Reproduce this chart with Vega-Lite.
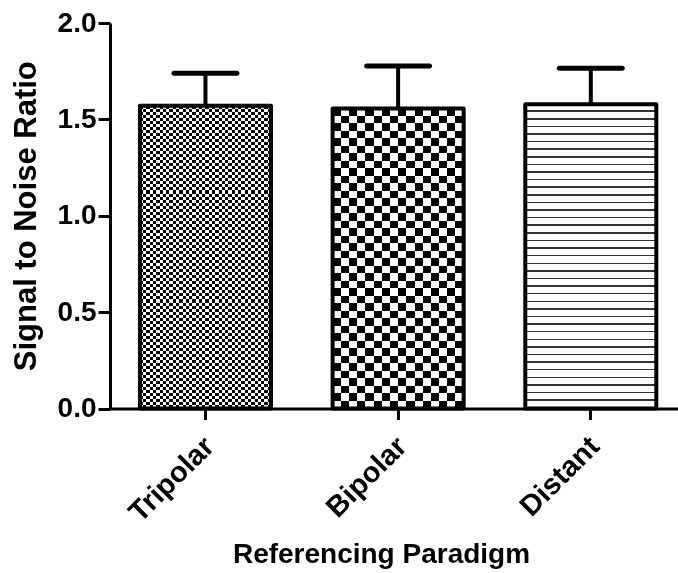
{
  "$schema": "https://vega.github.io/schema/vega-lite/v6.json",
  "width": 568,
  "height": 385.5,
  "autosize": {"type": "none"},
  "padding": {"left": 110, "top": 23, "right": 0, "bottom": 164.5},
  "background": "white",
  "config": {
    "view": {"stroke": null},
    "font": "Liberation Sans",
    "axis": {
      "domainColor": "black", "domainWidth": 3, "tickColor": "black", "tickWidth": 3,
      "labelColor": "black", "labelFont": "Liberation Sans", "labelFontWeight": "bold",
      "titleColor": "black", "titleFont": "Liberation Sans", "titleFontWeight": "bold", "grid": false
    }
  },
  "data": {"values": [
    {"Paradigm": "Tripolar", "SNR": 1.571, "Upper": 1.739},
    {"Paradigm": "Bipolar", "SNR": 1.557, "Upper": 1.777},
    {"Paradigm": "Distant", "SNR": 1.578, "Upper": 1.765}
  ]},
  "encoding": {
    "x": {
      "field": "Paradigm", "type": "nominal", "sort": ["Tripolar", "Bipolar", "Distant"],
      "scale": {"paddingInner": 0.32, "paddingOuter": 0.134, "align": 0.58},
      "axis": {"title": "Referencing Paradigm", "labelAngle": -45, "labelAlign": "right", "labelBaseline": "top",
        "labelFontSize": 29, "labelPadding": 12, "labelOffset": -6, "tickSize": 11, "titleFontSize": 28,
        "titleX": 271, "titleY": 154, "titleBaseline": "alphabetic"}
    },
    "y": {
      "field": "SNR", "type": "quantitative",
      "scale": {"domain": [0, 2], "nice": false},
      "axis": {"title": "Signal to Noise Ratio", "values": [0, 0.5, 1, 1.5, 2], "format": ".1f",
        "labelFontSize": 28, "labelPadding": 2, "tickSize": 12, "titleFontSize": 31,
        "titleX": -84, "titleBaseline": "middle"}
    }
  },
  "layer": [
    {"mark": {"type": "rule", "color": "black", "strokeWidth": 4}, "encoding": {"y2": {"field": "Upper"}}},
    {"mark": {"type": "tick", "color": "black", "size": 68, "thickness": 5, "cornerRadius": 2.5, "opacity": 1},
      "encoding": {"y": {"field": "Upper", "type": "quantitative",
        "axis": {"title": "Signal to Noise Ratio", "values": [0, 0.5, 1, 1.5, 2], "format": ".1f",
          "labelFontSize": 28, "labelPadding": 2, "tickSize": 12, "titleFontSize": 31,
          "titleX": -84, "titleBaseline": "middle"}}}},
    {"transform": [{"filter": "datum.Paradigm === 'Tripolar'"}],
      "mark": {"type": "bar", "stroke": null, "fill": {"gradient": "linear", "x1": 0, "y1": 0, "x2": 0, "y2": 1, "stops": [
        {"offset":0,"color":"#fff"},{"offset":0.01,"color":"#fff"},{"offset":0.01,"color":"#000"},{"offset":0.02,"color":"#000"},
        {"offset":0.02,"color":"#fff"},{"offset":0.03,"color":"#fff"},{"offset":0.03,"color":"#000"},{"offset":0.04,"color":"#000"},
        {"offset":0.04,"color":"#fff"},{"offset":0.05,"color":"#fff"},{"offset":0.05,"color":"#000"},{"offset":0.06,"color":"#000"},
        {"offset":0.06,"color":"#fff"},{"offset":0.07,"color":"#fff"},{"offset":0.07,"color":"#000"},{"offset":0.08,"color":"#000"},
        {"offset":0.08,"color":"#fff"},{"offset":0.09,"color":"#fff"},{"offset":0.09,"color":"#000"},{"offset":0.1,"color":"#000"},
        {"offset":0.1,"color":"#fff"},{"offset":0.11,"color":"#fff"},{"offset":0.11,"color":"#000"},{"offset":0.12,"color":"#000"},
        {"offset":0.12,"color":"#fff"},{"offset":0.13,"color":"#fff"},{"offset":0.13,"color":"#000"},{"offset":0.14,"color":"#000"},
        {"offset":0.14,"color":"#fff"},{"offset":0.15,"color":"#fff"},{"offset":0.15,"color":"#000"},{"offset":0.16,"color":"#000"},
        {"offset":0.16,"color":"#fff"},{"offset":0.17,"color":"#fff"},{"offset":0.17,"color":"#000"},{"offset":0.18,"color":"#000"},
        {"offset":0.18,"color":"#fff"},{"offset":0.19,"color":"#fff"},{"offset":0.19,"color":"#000"},{"offset":0.2,"color":"#000"},
        {"offset":0.2,"color":"#fff"},{"offset":0.21,"color":"#fff"},{"offset":0.21,"color":"#000"},{"offset":0.22,"color":"#000"},
        {"offset":0.22,"color":"#fff"},{"offset":0.23,"color":"#fff"},{"offset":0.23,"color":"#000"},{"offset":0.24,"color":"#000"},
        {"offset":0.24,"color":"#fff"},{"offset":0.25,"color":"#fff"},{"offset":0.25,"color":"#000"},{"offset":0.26,"color":"#000"},
        {"offset":0.26,"color":"#fff"},{"offset":0.27,"color":"#fff"},{"offset":0.27,"color":"#000"},{"offset":0.28,"color":"#000"},
        {"offset":0.28,"color":"#fff"},{"offset":0.29,"color":"#fff"},{"offset":0.29,"color":"#000"},{"offset":0.3,"color":"#000"},
        {"offset":0.3,"color":"#fff"},{"offset":0.31,"color":"#fff"},{"offset":0.31,"color":"#000"},{"offset":0.32,"color":"#000"},
        {"offset":0.32,"color":"#fff"},{"offset":0.33,"color":"#fff"},{"offset":0.33,"color":"#000"},{"offset":0.34,"color":"#000"},
        {"offset":0.34,"color":"#fff"},{"offset":0.35,"color":"#fff"},{"offset":0.35,"color":"#000"},{"offset":0.36,"color":"#000"},
        {"offset":0.36,"color":"#fff"},{"offset":0.37,"color":"#fff"},{"offset":0.37,"color":"#000"},{"offset":0.38,"color":"#000"},
        {"offset":0.38,"color":"#fff"},{"offset":0.39,"color":"#fff"},{"offset":0.39,"color":"#000"},{"offset":0.4,"color":"#000"},
        {"offset":0.4,"color":"#fff"},{"offset":0.41,"color":"#fff"},{"offset":0.41,"color":"#000"},{"offset":0.42,"color":"#000"},
        {"offset":0.42,"color":"#fff"},{"offset":0.43,"color":"#fff"},{"offset":0.43,"color":"#000"},{"offset":0.44,"color":"#000"},
        {"offset":0.44,"color":"#fff"},{"offset":0.45,"color":"#fff"},{"offset":0.45,"color":"#000"},{"offset":0.46,"color":"#000"},
        {"offset":0.46,"color":"#fff"},{"offset":0.47,"color":"#fff"},{"offset":0.47,"color":"#000"},{"offset":0.48,"color":"#000"},
        {"offset":0.48,"color":"#fff"},{"offset":0.49,"color":"#fff"},{"offset":0.49,"color":"#000"},{"offset":0.5,"color":"#000"},
        {"offset":0.5,"color":"#fff"},{"offset":0.51,"color":"#fff"},{"offset":0.51,"color":"#000"},{"offset":0.52,"color":"#000"},
        {"offset":0.52,"color":"#fff"},{"offset":0.53,"color":"#fff"},{"offset":0.53,"color":"#000"},{"offset":0.54,"color":"#000"},
        {"offset":0.54,"color":"#fff"},{"offset":0.55,"color":"#fff"},{"offset":0.55,"color":"#000"},{"offset":0.56,"color":"#000"},
        {"offset":0.56,"color":"#fff"},{"offset":0.57,"color":"#fff"},{"offset":0.57,"color":"#000"},{"offset":0.58,"color":"#000"},
        {"offset":0.58,"color":"#fff"},{"offset":0.59,"color":"#fff"},{"offset":0.59,"color":"#000"},{"offset":0.6,"color":"#000"},
        {"offset":0.6,"color":"#fff"},{"offset":0.61,"color":"#fff"},{"offset":0.61,"color":"#000"},{"offset":0.62,"color":"#000"},
        {"offset":0.62,"color":"#fff"},{"offset":0.63,"color":"#fff"},{"offset":0.63,"color":"#000"},{"offset":0.64,"color":"#000"},
        {"offset":0.64,"color":"#fff"},{"offset":0.65,"color":"#fff"},{"offset":0.65,"color":"#000"},{"offset":0.66,"color":"#000"},
        {"offset":0.66,"color":"#fff"},{"offset":0.67,"color":"#fff"},{"offset":0.67,"color":"#000"},{"offset":0.68,"color":"#000"},
        {"offset":0.68,"color":"#fff"},{"offset":0.69,"color":"#fff"},{"offset":0.69,"color":"#000"},{"offset":0.7,"color":"#000"},
        {"offset":0.7,"color":"#fff"},{"offset":0.71,"color":"#fff"},{"offset":0.71,"color":"#000"},{"offset":0.72,"color":"#000"},
        {"offset":0.72,"color":"#fff"},{"offset":0.73,"color":"#fff"},{"offset":0.73,"color":"#000"},{"offset":0.74,"color":"#000"},
        {"offset":0.74,"color":"#fff"},{"offset":0.75,"color":"#fff"},{"offset":0.75,"color":"#000"},{"offset":0.76,"color":"#000"},
        {"offset":0.76,"color":"#fff"},{"offset":0.77,"color":"#fff"},{"offset":0.77,"color":"#000"},{"offset":0.78,"color":"#000"},
        {"offset":0.78,"color":"#fff"},{"offset":0.79,"color":"#fff"},{"offset":0.79,"color":"#000"},{"offset":0.8,"color":"#000"},
        {"offset":0.8,"color":"#fff"},{"offset":0.81,"color":"#fff"},{"offset":0.81,"color":"#000"},{"offset":0.82,"color":"#000"},
        {"offset":0.82,"color":"#fff"},{"offset":0.83,"color":"#fff"},{"offset":0.83,"color":"#000"},{"offset":0.84,"color":"#000"},
        {"offset":0.84,"color":"#fff"},{"offset":0.85,"color":"#fff"},{"offset":0.85,"color":"#000"},{"offset":0.86,"color":"#000"},
        {"offset":0.86,"color":"#fff"},{"offset":0.87,"color":"#fff"},{"offset":0.87,"color":"#000"},{"offset":0.88,"color":"#000"},
        {"offset":0.88,"color":"#fff"},{"offset":0.89,"color":"#fff"},{"offset":0.89,"color":"#000"},{"offset":0.9,"color":"#000"},
        {"offset":0.9,"color":"#fff"},{"offset":0.91,"color":"#fff"},{"offset":0.91,"color":"#000"},{"offset":0.92,"color":"#000"},
        {"offset":0.92,"color":"#fff"},{"offset":0.93,"color":"#fff"},{"offset":0.93,"color":"#000"},{"offset":0.94,"color":"#000"},
        {"offset":0.94,"color":"#fff"},{"offset":0.95,"color":"#fff"},{"offset":0.95,"color":"#000"},{"offset":0.96,"color":"#000"},
        {"offset":0.96,"color":"#fff"},{"offset":0.97,"color":"#fff"},{"offset":0.97,"color":"#000"},{"offset":0.98,"color":"#000"},
        {"offset":0.98,"color":"#fff"},{"offset":0.99,"color":"#fff"},{"offset":0.99,"color":"#000"},{"offset":1,"color":"#000"}
      ]}}},
    {"transform": [{"filter": "datum.Paradigm === 'Tripolar'"}],
      "mark": {"type": "bar", "stroke": null, "blend": "difference", "fill": {"gradient": "linear", "x1": 0, "y1": 0, "x2": 1, "y2": 0, "stops": [
        {"offset":0,"color":"#fff"},{"offset":0.025,"color":"#fff"},{"offset":0.025,"color":"#000"},{"offset":0.05,"color":"#000"},
        {"offset":0.05,"color":"#fff"},{"offset":0.075,"color":"#fff"},{"offset":0.075,"color":"#000"},{"offset":0.1,"color":"#000"},
        {"offset":0.1,"color":"#fff"},{"offset":0.125,"color":"#fff"},{"offset":0.125,"color":"#000"},{"offset":0.15,"color":"#000"},
        {"offset":0.15,"color":"#fff"},{"offset":0.175,"color":"#fff"},{"offset":0.175,"color":"#000"},{"offset":0.2,"color":"#000"},
        {"offset":0.2,"color":"#fff"},{"offset":0.225,"color":"#fff"},{"offset":0.225,"color":"#000"},{"offset":0.25,"color":"#000"},
        {"offset":0.25,"color":"#fff"},{"offset":0.275,"color":"#fff"},{"offset":0.275,"color":"#000"},{"offset":0.3,"color":"#000"},
        {"offset":0.3,"color":"#fff"},{"offset":0.325,"color":"#fff"},{"offset":0.325,"color":"#000"},{"offset":0.35,"color":"#000"},
        {"offset":0.35,"color":"#fff"},{"offset":0.375,"color":"#fff"},{"offset":0.375,"color":"#000"},{"offset":0.4,"color":"#000"},
        {"offset":0.4,"color":"#fff"},{"offset":0.425,"color":"#fff"},{"offset":0.425,"color":"#000"},{"offset":0.45,"color":"#000"},
        {"offset":0.45,"color":"#fff"},{"offset":0.475,"color":"#fff"},{"offset":0.475,"color":"#000"},{"offset":0.5,"color":"#000"},
        {"offset":0.5,"color":"#fff"},{"offset":0.525,"color":"#fff"},{"offset":0.525,"color":"#000"},{"offset":0.55,"color":"#000"},
        {"offset":0.55,"color":"#fff"},{"offset":0.575,"color":"#fff"},{"offset":0.575,"color":"#000"},{"offset":0.6,"color":"#000"},
        {"offset":0.6,"color":"#fff"},{"offset":0.625,"color":"#fff"},{"offset":0.625,"color":"#000"},{"offset":0.65,"color":"#000"},
        {"offset":0.65,"color":"#fff"},{"offset":0.675,"color":"#fff"},{"offset":0.675,"color":"#000"},{"offset":0.7,"color":"#000"},
        {"offset":0.7,"color":"#fff"},{"offset":0.725,"color":"#fff"},{"offset":0.725,"color":"#000"},{"offset":0.75,"color":"#000"},
        {"offset":0.75,"color":"#fff"},{"offset":0.775,"color":"#fff"},{"offset":0.775,"color":"#000"},{"offset":0.8,"color":"#000"},
        {"offset":0.8,"color":"#fff"},{"offset":0.825,"color":"#fff"},{"offset":0.825,"color":"#000"},{"offset":0.85,"color":"#000"},
        {"offset":0.85,"color":"#fff"},{"offset":0.875,"color":"#fff"},{"offset":0.875,"color":"#000"},{"offset":0.9,"color":"#000"},
        {"offset":0.9,"color":"#fff"},{"offset":0.925,"color":"#fff"},{"offset":0.925,"color":"#000"},{"offset":0.95,"color":"#000"},
        {"offset":0.95,"color":"#fff"},{"offset":0.975,"color":"#fff"},{"offset":0.975,"color":"#000"},{"offset":1,"color":"#000"}
      ]}}},
    {"transform": [{"filter": "datum.Paradigm === 'Bipolar'"}],
      "mark": {"type": "bar", "stroke": null, "fill": {"gradient": "linear", "x1": 0, "y1": 0, "x2": 0, "y2": 1, "stops": [
        {"offset":0,"color":"#fff"},{"offset":0.025,"color":"#fff"},{"offset":0.025,"color":"#000"},{"offset":0.05,"color":"#000"},
        {"offset":0.05,"color":"#fff"},{"offset":0.075,"color":"#fff"},{"offset":0.075,"color":"#000"},{"offset":0.1,"color":"#000"},
        {"offset":0.1,"color":"#fff"},{"offset":0.125,"color":"#fff"},{"offset":0.125,"color":"#000"},{"offset":0.15,"color":"#000"},
        {"offset":0.15,"color":"#fff"},{"offset":0.175,"color":"#fff"},{"offset":0.175,"color":"#000"},{"offset":0.2,"color":"#000"},
        {"offset":0.2,"color":"#fff"},{"offset":0.225,"color":"#fff"},{"offset":0.225,"color":"#000"},{"offset":0.25,"color":"#000"},
        {"offset":0.25,"color":"#fff"},{"offset":0.275,"color":"#fff"},{"offset":0.275,"color":"#000"},{"offset":0.3,"color":"#000"},
        {"offset":0.3,"color":"#fff"},{"offset":0.325,"color":"#fff"},{"offset":0.325,"color":"#000"},{"offset":0.35,"color":"#000"},
        {"offset":0.35,"color":"#fff"},{"offset":0.375,"color":"#fff"},{"offset":0.375,"color":"#000"},{"offset":0.4,"color":"#000"},
        {"offset":0.4,"color":"#fff"},{"offset":0.425,"color":"#fff"},{"offset":0.425,"color":"#000"},{"offset":0.45,"color":"#000"},
        {"offset":0.45,"color":"#fff"},{"offset":0.475,"color":"#fff"},{"offset":0.475,"color":"#000"},{"offset":0.5,"color":"#000"},
        {"offset":0.5,"color":"#fff"},{"offset":0.525,"color":"#fff"},{"offset":0.525,"color":"#000"},{"offset":0.55,"color":"#000"},
        {"offset":0.55,"color":"#fff"},{"offset":0.575,"color":"#fff"},{"offset":0.575,"color":"#000"},{"offset":0.6,"color":"#000"},
        {"offset":0.6,"color":"#fff"},{"offset":0.625,"color":"#fff"},{"offset":0.625,"color":"#000"},{"offset":0.65,"color":"#000"},
        {"offset":0.65,"color":"#fff"},{"offset":0.675,"color":"#fff"},{"offset":0.675,"color":"#000"},{"offset":0.7,"color":"#000"},
        {"offset":0.7,"color":"#fff"},{"offset":0.725,"color":"#fff"},{"offset":0.725,"color":"#000"},{"offset":0.75,"color":"#000"},
        {"offset":0.75,"color":"#fff"},{"offset":0.775,"color":"#fff"},{"offset":0.775,"color":"#000"},{"offset":0.8,"color":"#000"},
        {"offset":0.8,"color":"#fff"},{"offset":0.825,"color":"#fff"},{"offset":0.825,"color":"#000"},{"offset":0.85,"color":"#000"},
        {"offset":0.85,"color":"#fff"},{"offset":0.875,"color":"#fff"},{"offset":0.875,"color":"#000"},{"offset":0.9,"color":"#000"},
        {"offset":0.9,"color":"#fff"},{"offset":0.925,"color":"#fff"},{"offset":0.925,"color":"#000"},{"offset":0.95,"color":"#000"},
        {"offset":0.95,"color":"#fff"},{"offset":0.975,"color":"#fff"},{"offset":0.975,"color":"#000"},{"offset":1,"color":"#000"}
      ]}}},
    {"transform": [{"filter": "datum.Paradigm === 'Bipolar'"}],
      "mark": {"type": "bar", "stroke": null, "blend": "difference", "fill": {"gradient": "linear", "x1": 0, "y1": 0, "x2": 1, "y2": 0, "stops": [
        {"offset":0,"color":"#fff"},{"offset":0.0625,"color":"#fff"},{"offset":0.0625,"color":"#000"},{"offset":0.125,"color":"#000"},
        {"offset":0.125,"color":"#fff"},{"offset":0.1875,"color":"#fff"},{"offset":0.1875,"color":"#000"},{"offset":0.25,"color":"#000"},
        {"offset":0.25,"color":"#fff"},{"offset":0.3125,"color":"#fff"},{"offset":0.3125,"color":"#000"},{"offset":0.375,"color":"#000"},
        {"offset":0.375,"color":"#fff"},{"offset":0.4375,"color":"#fff"},{"offset":0.4375,"color":"#000"},{"offset":0.5,"color":"#000"},
        {"offset":0.5,"color":"#fff"},{"offset":0.5625,"color":"#fff"},{"offset":0.5625,"color":"#000"},{"offset":0.625,"color":"#000"},
        {"offset":0.625,"color":"#fff"},{"offset":0.6875,"color":"#fff"},{"offset":0.6875,"color":"#000"},{"offset":0.75,"color":"#000"},
        {"offset":0.75,"color":"#fff"},{"offset":0.8125,"color":"#fff"},{"offset":0.8125,"color":"#000"},{"offset":0.875,"color":"#000"},
        {"offset":0.875,"color":"#fff"},{"offset":0.9375,"color":"#fff"},{"offset":0.9375,"color":"#000"},{"offset":1,"color":"#000"}
      ]}}},
    {"transform": [{"filter": "datum.Paradigm === 'Distant'"}],
      "mark": {"type": "bar", "stroke": null, "fill": {"gradient": "linear", "x1": 0, "y1": 0, "x2": 0, "y2": 1, "stops": [
        {"offset":0,"color":"#fff"},{"offset":0.02,"color":"#fff"},{"offset":0.02,"color":"#333"},{"offset":0.025,"color":"#333"},
        {"offset":0.025,"color":"#fff"},{"offset":0.045,"color":"#fff"},{"offset":0.045,"color":"#333"},{"offset":0.05,"color":"#333"},
        {"offset":0.05,"color":"#fff"},{"offset":0.07,"color":"#fff"},{"offset":0.07,"color":"#333"},{"offset":0.075,"color":"#333"},
        {"offset":0.075,"color":"#fff"},{"offset":0.095,"color":"#fff"},{"offset":0.095,"color":"#333"},{"offset":0.1,"color":"#333"},
        {"offset":0.1,"color":"#fff"},{"offset":0.12,"color":"#fff"},{"offset":0.12,"color":"#333"},{"offset":0.125,"color":"#333"},
        {"offset":0.125,"color":"#fff"},{"offset":0.145,"color":"#fff"},{"offset":0.145,"color":"#333"},{"offset":0.15,"color":"#333"},
        {"offset":0.15,"color":"#fff"},{"offset":0.17,"color":"#fff"},{"offset":0.17,"color":"#333"},{"offset":0.175,"color":"#333"},
        {"offset":0.175,"color":"#fff"},{"offset":0.195,"color":"#fff"},{"offset":0.195,"color":"#333"},{"offset":0.2,"color":"#333"},
        {"offset":0.2,"color":"#fff"},{"offset":0.22,"color":"#fff"},{"offset":0.22,"color":"#333"},{"offset":0.225,"color":"#333"},
        {"offset":0.225,"color":"#fff"},{"offset":0.245,"color":"#fff"},{"offset":0.245,"color":"#333"},{"offset":0.25,"color":"#333"},
        {"offset":0.25,"color":"#fff"},{"offset":0.27,"color":"#fff"},{"offset":0.27,"color":"#333"},{"offset":0.275,"color":"#333"},
        {"offset":0.275,"color":"#fff"},{"offset":0.295,"color":"#fff"},{"offset":0.295,"color":"#333"},{"offset":0.3,"color":"#333"},
        {"offset":0.3,"color":"#fff"},{"offset":0.32,"color":"#fff"},{"offset":0.32,"color":"#333"},{"offset":0.325,"color":"#333"},
        {"offset":0.325,"color":"#fff"},{"offset":0.345,"color":"#fff"},{"offset":0.345,"color":"#333"},{"offset":0.35,"color":"#333"},
        {"offset":0.35,"color":"#fff"},{"offset":0.37,"color":"#fff"},{"offset":0.37,"color":"#333"},{"offset":0.375,"color":"#333"},
        {"offset":0.375,"color":"#fff"},{"offset":0.395,"color":"#fff"},{"offset":0.395,"color":"#333"},{"offset":0.4,"color":"#333"},
        {"offset":0.4,"color":"#fff"},{"offset":0.42,"color":"#fff"},{"offset":0.42,"color":"#333"},{"offset":0.425,"color":"#333"},
        {"offset":0.425,"color":"#fff"},{"offset":0.445,"color":"#fff"},{"offset":0.445,"color":"#333"},{"offset":0.45,"color":"#333"},
        {"offset":0.45,"color":"#fff"},{"offset":0.47,"color":"#fff"},{"offset":0.47,"color":"#333"},{"offset":0.475,"color":"#333"},
        {"offset":0.475,"color":"#fff"},{"offset":0.495,"color":"#fff"},{"offset":0.495,"color":"#333"},{"offset":0.5,"color":"#333"},
        {"offset":0.5,"color":"#fff"},{"offset":0.52,"color":"#fff"},{"offset":0.52,"color":"#333"},{"offset":0.525,"color":"#333"},
        {"offset":0.525,"color":"#fff"},{"offset":0.545,"color":"#fff"},{"offset":0.545,"color":"#333"},{"offset":0.55,"color":"#333"},
        {"offset":0.55,"color":"#fff"},{"offset":0.57,"color":"#fff"},{"offset":0.57,"color":"#333"},{"offset":0.575,"color":"#333"},
        {"offset":0.575,"color":"#fff"},{"offset":0.595,"color":"#fff"},{"offset":0.595,"color":"#333"},{"offset":0.6,"color":"#333"},
        {"offset":0.6,"color":"#fff"},{"offset":0.62,"color":"#fff"},{"offset":0.62,"color":"#333"},{"offset":0.625,"color":"#333"},
        {"offset":0.625,"color":"#fff"},{"offset":0.645,"color":"#fff"},{"offset":0.645,"color":"#333"},{"offset":0.65,"color":"#333"},
        {"offset":0.65,"color":"#fff"},{"offset":0.67,"color":"#fff"},{"offset":0.67,"color":"#333"},{"offset":0.675,"color":"#333"},
        {"offset":0.675,"color":"#fff"},{"offset":0.695,"color":"#fff"},{"offset":0.695,"color":"#333"},{"offset":0.7,"color":"#333"},
        {"offset":0.7,"color":"#fff"},{"offset":0.72,"color":"#fff"},{"offset":0.72,"color":"#333"},{"offset":0.725,"color":"#333"},
        {"offset":0.725,"color":"#fff"},{"offset":0.745,"color":"#fff"},{"offset":0.745,"color":"#333"},{"offset":0.75,"color":"#333"},
        {"offset":0.75,"color":"#fff"},{"offset":0.77,"color":"#fff"},{"offset":0.77,"color":"#333"},{"offset":0.775,"color":"#333"},
        {"offset":0.775,"color":"#fff"},{"offset":0.795,"color":"#fff"},{"offset":0.795,"color":"#333"},{"offset":0.8,"color":"#333"},
        {"offset":0.8,"color":"#fff"},{"offset":0.82,"color":"#fff"},{"offset":0.82,"color":"#333"},{"offset":0.825,"color":"#333"},
        {"offset":0.825,"color":"#fff"},{"offset":0.845,"color":"#fff"},{"offset":0.845,"color":"#333"},{"offset":0.85,"color":"#333"},
        {"offset":0.85,"color":"#fff"},{"offset":0.87,"color":"#fff"},{"offset":0.87,"color":"#333"},{"offset":0.875,"color":"#333"},
        {"offset":0.875,"color":"#fff"},{"offset":0.895,"color":"#fff"},{"offset":0.895,"color":"#333"},{"offset":0.9,"color":"#333"},
        {"offset":0.9,"color":"#fff"},{"offset":0.92,"color":"#fff"},{"offset":0.92,"color":"#333"},{"offset":0.925,"color":"#333"},
        {"offset":0.925,"color":"#fff"},{"offset":0.945,"color":"#fff"},{"offset":0.945,"color":"#333"},{"offset":0.95,"color":"#333"},
        {"offset":0.95,"color":"#fff"},{"offset":0.97,"color":"#fff"},{"offset":0.97,"color":"#333"},{"offset":0.975,"color":"#333"},
        {"offset":0.975,"color":"#fff"},{"offset":0.995,"color":"#fff"},{"offset":0.995,"color":"#333"},{"offset":1,"color":"#333"}
      ]}}},
    {"mark": {"type": "bar", "filled": false, "color": "black", "strokeWidth": 4, "strokeJoin": "round"}}
  ]
}
